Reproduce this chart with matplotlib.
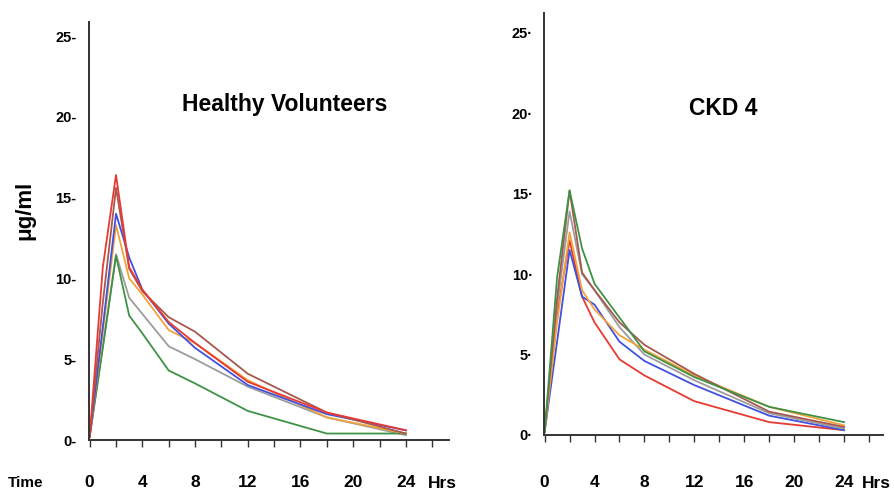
import matplotlib
matplotlib.use("Agg")
import matplotlib.pyplot as plt

plt.rcParams['font.family'] = ['Liberation Sans', 'DejaVu Sans']

hours = [0, 1, 2, 3, 4, 6, 8, 12, 18, 24]

# Healthy volunteers
hv_red    = [0.2, 10.7, 16.4, 10.7, 9.3, 7.3, 6.0, 3.6, 1.7, 0.6]
hv_brown  = [0.2, 8.5, 15.6, 10.6, 9.2, 7.6, 6.7, 4.1, 1.7, 0.4]
hv_blue   = [0.2, 7.0, 14.0, 11.3, 9.3, 7.2, 5.7, 3.4, 1.6, 0.6]
hv_orange = [0.2, 6.7, 13.3, 10.0, 9.0, 6.8, 6.0, 3.7, 1.4, 0.4]
hv_gray   = [0.2, 5.8, 11.5, 8.8, 7.8, 5.8, 5.0, 3.3, 1.4, 0.3]
hv_green  = [0.2, 5.7, 11.4, 7.7, 6.6, 4.3, 3.5, 1.8, 0.4, 0.4]

# CKD 4
ckd_brown  = [0.2, 8.5, 15.2, 10.1, 9.0, 7.0, 5.6, 3.8, 1.45, 0.5]
ckd_green  = [0.2, 9.8, 15.2, 11.6, 9.4, 7.3, 5.2, 3.6, 1.75, 0.8]
ckd_gray   = [0.2, 8.0, 13.9, 10.0, 9.0, 6.7, 5.0, 3.4, 1.35, 0.4]
ckd_orange = [0.2, 7.0, 12.6, 9.0, 7.8, 6.2, 5.3, 3.7, 1.75, 0.6]
ckd_red    = [0.2, 7.5, 12.1, 8.6, 7.0, 4.7, 3.7, 2.1, 0.8, 0.3]
ckd_blue   = [0.2, 5.8, 11.5, 8.6, 8.1, 5.8, 4.6, 3.1, 1.2, 0.3]

y_ticks = [0, 5, 10, 15, 20, 25]
x_ticks = [0, 4, 8, 12, 16, 20, 24]

colors = {
    'red': '#e63a32', 'brown': '#a5584e', 'blue': '#4050e0',
    'orange': '#f4a23a', 'gray': '#9c9c9c', 'green': '#3f9245',
}

fig = plt.figure(figsize=(8.95, 4.92), dpi=100)
ax1 = fig.add_axes([89/895, 1-440/492, 360/895, 418/492])
ax2 = fig.add_axes([544/895, 1-435/492, 339/895, 422/492])

hv = [(hv_gray, 'gray'), (hv_green, 'green'), (hv_orange, 'orange'),
      (hv_blue, 'blue'), (hv_brown, 'brown'), (hv_red, 'red')]
ckd = [(ckd_red, 'red'), (ckd_blue, 'blue'), (ckd_gray, 'gray'),
       (ckd_orange, 'orange'), (ckd_brown, 'brown'), (ckd_green, 'green')]

def style(ax, series, title, title_xy, ytop, suffix, ypad, xpad, xmax):
    for vals, c in series:
        ax.plot(hours, vals, color=colors[c], lw=1.3)
    ax.set_xlim(-0.05, xmax)
    ax.set_ylim(0, ytop)
    for s in ['top', 'right']:
        ax.spines[s].set_visible(False)
    for s in ['left', 'bottom']:
        ax.spines[s].set_color('#333333')
        ax.spines[s].set_linewidth(1.4)
    ax.set_yticks(y_ticks)
    ax.set_yticklabels([f"{v}{suffix}" for v in y_ticks], fontsize=10.5, fontweight='bold')
    ax.tick_params(axis='y', length=0, pad=ypad)
    allt = list(range(0, 27, 2))
    ax.set_xticks(allt)
    ax.set_xticklabels([str(t) if t in x_ticks else '' for t in allt],
                       fontsize=12.5, fontweight='bold')
    ax.tick_params(axis='x', length=5, width=1, color='#333333', pad=xpad, direction='out')
    ax.text(title_xy[0], title_xy[1], title, transform=ax.transAxes,
            fontsize=16.5, fontweight='bold', ha='center', va='center')

style(ax1, hv, 'Healthy Volunteers', ((285-89)/360, (440-105)/418), 418/16.16, '-', 9, 20, 360/13.2)
style(ax2, ckd, 'CKD 4', ((723-544)/339, (435-108)/422), 422/16.09, '\u00b7', 8, 23.5, 339/12.5)

fig.text(25/895, 1-210/492, 'μg/ml', rotation=90, fontsize=16, fontweight='bold',
         ha='center', va='center')
fig.text(26/895, 1-483/492, 'Time', fontsize=11, fontweight='bold', ha='center', va='center')
fig.text(442/895, 1-483/492, 'Hrs', fontsize=12.5, fontweight='bold', ha='center', va='center')
fig.text(876/895, 1-483/492, 'Hrs', fontsize=12.5, fontweight='bold', ha='center', va='center')

fig.savefig('out.png', dpi=100)
